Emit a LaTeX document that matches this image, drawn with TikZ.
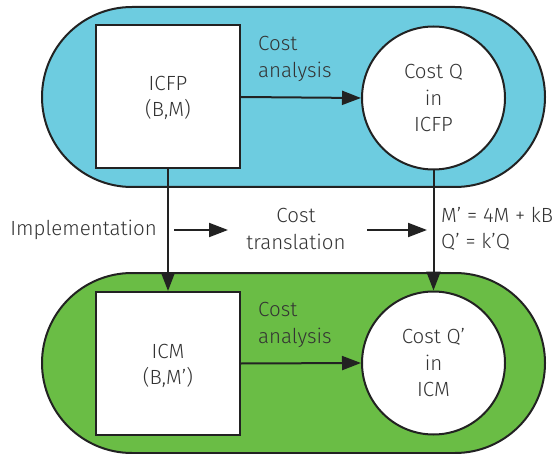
\documentclass[tikz,border=0pt]{standalone}
\usepackage{fontspec}
\setmainfont{Fira Sans}[UprightFont=* Light]
\usetikzlibrary{arrows.meta}
\definecolor{bandblue}{HTML}{6DCCE0}
\definecolor{bandgreen}{HTML}{6ABD45}
\definecolor{ink}{HTML}{222222}
\definecolor{txt}{HTML}{333333}
\tikzset{
  band/.style={draw=ink, line width=2pt, rounded corners=90pt, minimum width=503pt, minimum height=180pt, inner sep=0pt},
  sqbox/.style={draw=ink, fill=white, line width=2pt, minimum width=144pt, minimum height=143pt, inner sep=0pt},
  cbox/.style={draw=ink, fill=white, line width=2pt, circle, minimum size=143pt, inner sep=0pt},
  lbl/.style={text=txt, font=\fontsize{20.5}{26.5}\selectfont, inner sep=0pt},
  arr/.style={draw=ink, line width=2pt, -{Triangle[length=19pt,width=14pt]}},
}
\begin{document}
\begin{tikzpicture}[x=1pt,y=-1pt]
\useasboundingbox (0,0) rectangle (559,454);
\node[band, fill=bandblue] (topband) at (293.5,97) {};
\node[band, fill=bandgreen] (botband) at (293.5,363) {};
\node[sqbox] (sqtop) at (168,97) {};
\node[lbl, align=center] (sqtoptxt) at (168,98) {ICFP\\(B,M)};
\node[cbox] (ctop) at (433.5,98) {};
\node[lbl, align=center] (ctoptxt) at (433.5,98) {Cost Q\\in\\ICFP};
\node[sqbox] (sqbot) at (168,363.5) {};
\node[lbl, align=center] (sqbottxt) at (168,366) {ICM\\(B,M')};
\node[cbox] (cbot) at (433.5,363) {};
\node[lbl, align=center] (cbottxt) at (433.5,363) {Cost Q'\\in\\ICM};
\node[lbl, align=left, anchor=west] (catop) at (258,59) {Cost\\analysis};
\node[lbl, align=left, anchor=west] (cabot) at (258,325) {Cost\\analysis};
\node[lbl, anchor=east] (impl) at (157,230) {Implementation};
\node[lbl, align=center] (trans) at (296,229) {Cost\\translation};
\node[lbl, align=left, anchor=west] (eqs) at (441,229) {M' = 4M + kB\\Q' = k'Q};
\coordinate (a1s) at (174,230);
\coordinate (a1e) at (228,230);
\coordinate (a2s) at (367,230);
\coordinate (a2e) at (427,230);
\draw[arr] (sqtop.east) -- (ctop.west);
\draw[arr] (sqbot.east) -- (cbot.west);
\draw[arr] (sqtop.south) -- (sqbot.north);
\draw[arr] (ctop.south) -- (cbot.north);
\draw[arr] (a1s) -- (a1e);
\draw[arr] (a2s) -- (a2e);
\end{tikzpicture}
\end{document}
